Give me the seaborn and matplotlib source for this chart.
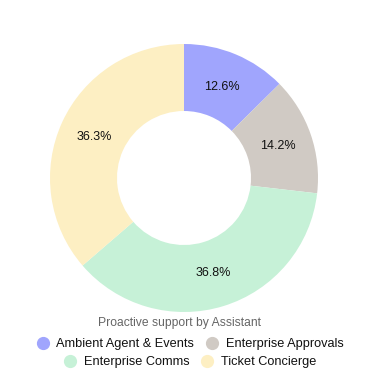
import matplotlib
matplotlib.use("Agg")
import matplotlib.pyplot as plt
from matplotlib.lines import Line2D
import seaborn as sns

# data
assistants = ["Ambient Agent & Events", "Enterprise Approvals", "Enterprise Comms", "Ticket Concierge"]
shares = [12.6, 14.2, 36.8, 36.3]
colors = ["#a0a5fd", "#d0cac4", "#c6f1d7", "#fdefc3"]
legend_title = "Proactive support by Assistant"

sns.set_theme(style="white")
plt.rcParams["font.family"] = ["Liberation Sans", "DejaVu Sans"]

fig = plt.figure(figsize=(3.67, 3.71), dpi=100)
ax = fig.add_axes([50 / 367, 59 / 371, 268 / 367, 268 / 371])

wedges, texts, autotexts = ax.pie(
    shares,
    colors=colors,
    startangle=90,
    counterclock=False,
    autopct="%.1f%%",
    pctdistance=0.74,
    wedgeprops=dict(width=0.5, linewidth=0),
    textprops=dict(fontsize=9, color="#111111"),
)
ax.set_xlim(-1, 1)
ax.set_ylim(-1, 1)
ax.set_aspect("equal")
ax.axis("off")

fig.text(179 / 367, 1 - 323 / 371, legend_title, ha="center", va="center",
         fontsize=8.7, color="#666666")


def handle(c):
    return Line2D([], [], marker="o", linestyle="", markersize=8.5,
                  markerfacecolor=c, markeredgecolor=c)


rows = [(0, 1), (2, 3)]
ys = [344, 362]
for (i, j), y in zip(rows, ys):
    leg = fig.legend(
        [handle(colors[i]), handle(colors[j])],
        [assistants[i], assistants[j]],
        loc="center",
        bbox_to_anchor=(190 / 367, 1 - y / 371),
        ncol=2,
        frameon=False,
        fontsize=9.2,
        handlelength=1.0,
        handletextpad=0.55,
        columnspacing=0.9,
        borderpad=0,
    )
    for t in leg.get_texts():
        t.set_color("#111111")

fig.savefig("out.png", dpi=100)
